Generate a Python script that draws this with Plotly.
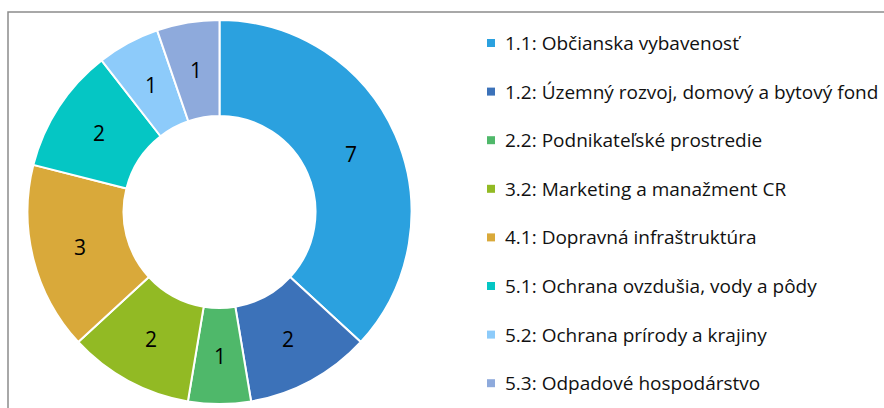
import math
import plotly.graph_objects as go

labels = [
    "1.1: Občianska vybavenosť",
    "1.2: Územný rozvoj, domový a bytový fond",
    "2.2: Podnikateľské prostredie",
    "3.2: Marketing a manažment CR",
    "4.1: Dopravná infraštruktúra",
    "5.1: Ochrana ovzdušia, vody a pôdy",
    "5.2: Ochrana prírody a krajiny",
    "5.3: Odpadové hospodárstvo",
]
values = [7, 2, 1, 2, 3, 2, 1, 1]
colors = ["#2BA1DF", "#3C72B9", "#4FB86A", "#92BA24", "#D9A93A", "#05C6C4", "#8DCBFA", "#8EAADC"]

W, H = 884, 408
FONT = "Open Sans"
DX = [27, 412]
DY = [4, 388]
HOLE = 0.5

fig = go.Figure()
fig.add_trace(go.Pie(
    labels=labels, values=values, hole=HOLE, sort=False, direction="clockwise", rotation=0,
    marker=dict(colors=colors, line=dict(color="white", width=2)),
    textinfo="none",
    domain=dict(x=[DX[0] / W, DX[1] / W], y=[DY[0] / H, DY[1] / H]),
    showlegend=False, hoverinfo="label+value",
))

# value labels at the middle of the ring
cx = (DX[0] + DX[1]) / 2
cy = (DY[0] + DY[1]) / 2
R = min(DX[1] - DX[0], DY[1] - DY[0]) / 2
rm = R * (1 + HOLE) / 2
total = sum(values)
cum = 0
for v in values:
    ang = 2 * math.pi * (cum + v / 2) / total
    cum += v
    px = cx + rm * math.sin(ang)
    py = cy + rm * math.cos(ang)
    fig.add_annotation(xref="paper", yref="paper", x=px / W, y=py / H, showarrow=False,
                       xanchor="center", yanchor="middle", text=str(v),
                       font=dict(family=FONT, size=21, color="black"))

# frame
fig.add_shape(type="rect", xref="paper", yref="paper", x0=8 / W, x1=1.02, y0=-0.02, y1=(H - 12) / H,
              line=dict(color="#8C8C8C", width=1.5), fillcolor="rgba(0,0,0,0)", layer="below")

# legend drawn as annotations
y0 = 43
step = 48.6
for i, (lab, col) in enumerate(zip(labels, colors)):
    yc = y0 + i * step
    fig.add_shape(type="rect", xref="paper", yref="paper",
                  x0=487 / W, x1=495 / W, y0=(H - yc - 4) / H, y1=(H - yc + 4) / H,
                  line=dict(width=0), fillcolor=col)
    fig.add_annotation(xref="paper", yref="paper", x=503 / W, y=(H - yc) / H,
                       xanchor="left", yanchor="middle", showarrow=False, text=lab,
                       font=dict(family=FONT, size=19, color="#111111"))

fig.update_layout(width=W, height=H, margin=dict(l=0, r=0, t=0, b=0),
                  paper_bgcolor="white", plot_bgcolor="white")
fig.write_html("out.html", config={"displayModeBar": False},
               post_script="document.body.style.margin='0';document.body.style.padding='0';")
